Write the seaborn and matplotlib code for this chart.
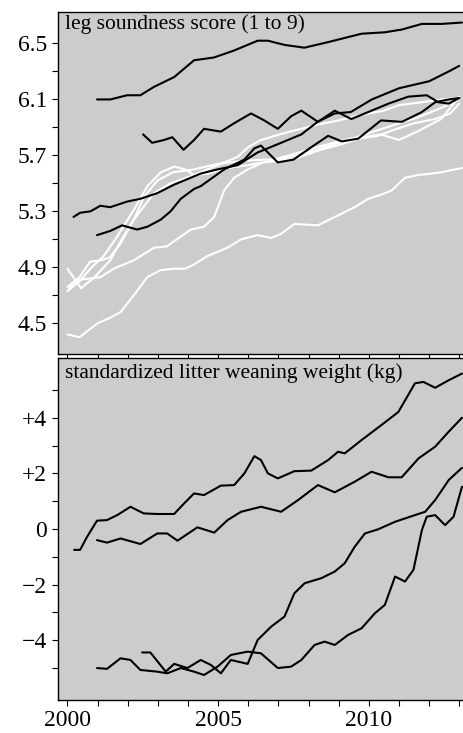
import numpy as np
import pandas as pd
import matplotlib
matplotlib.use("Agg")
import matplotlib.pyplot as plt
import seaborn as sns

# ---- top panel: leg soundness score, black lines ----
leg_black_1_yr = [2000.98, 2001.42, 2001.98, 2002.42, 2002.87, 2003.54, 2004.2, 2004.86, 2005.53,
                  2006.31, 2006.65, 2007.2, 2007.86, 2008.65, 2009.76, 2010.53, 2011.1, 2011.76, 2012.42, 2013.09]
leg_black_1 = [6.10, 6.10, 6.13, 6.13, 6.19, 6.26, 6.38, 6.40, 6.45,
               6.52, 6.52, 6.49, 6.47, 6.51, 6.57, 6.58, 6.60, 6.64, 6.64, 6.65]

leg_black_2_yr = [2002.51, 2002.81, 2003.2, 2003.48, 2003.85, 2004.2, 2004.53, 2005.09, 2005.53, 2006.09,
                  2006.53, 2006.98, 2007.42, 2007.76, 2008.31, 2008.87, 2009.42, 2009.98, 2010.65, 2011.31,
                  2011.92, 2012.31, 2012.65, 2013.0]
leg_black_2 = [5.85, 5.79, 5.81, 5.83, 5.74, 5.81, 5.89, 5.87, 5.93, 6.00,
               5.95, 5.89, 5.98, 6.02, 5.94, 6.02, 5.96, 6.01, 6.07, 6.12,
               6.13, 6.08, 6.07, 6.11]

leg_black_3_yr = [2000.2, 2000.42, 2000.76, 2001.09, 2001.42, 2001.98, 2002.42, 2002.98, 2003.53, 2004.42,
                  2004.98, 2005.65, 2006.3, 2007.2, 2007.76, 2008.3, 2008.87, 2009.4, 2010.1, 2011.0,
                  2012.0, 2012.65, 2013.0]
leg_black_3 = [5.26, 5.29, 5.30, 5.34, 5.33, 5.37, 5.39, 5.43, 5.49, 5.57,
               5.60, 5.63, 5.72, 5.80, 5.85, 5.94, 6.00, 6.01, 6.10, 6.18,
               6.23, 6.30, 6.34]

leg_black_4_yr = [2000.98, 2001.42, 2001.81, 2002.31, 2002.65, 2003.09, 2003.42, 2003.76, 2004.2, 2004.42,
                  2005.2, 2005.87, 2006.2, 2006.42, 2006.98, 2007.5, 2008.1, 2008.65, 2009.1, 2009.65,
                  2010.4, 2011.1, 2011.76, 2012.2, 2012.65, 2013.0]
leg_black_4 = [5.13, 5.16, 5.20, 5.17, 5.19, 5.24, 5.30, 5.39, 5.46, 5.48,
               5.60, 5.67, 5.75, 5.77, 5.65, 5.67, 5.76, 5.84, 5.80, 5.82,
               5.95, 5.94, 6.01, 6.08, 6.10, 6.11]

# ---- top panel: white lines ----
leg_white_1_yr = [2000.0, 2000.45, 2000.9, 2001.42, 2001.8, 2002.2, 2002.87, 2003.42, 2004.2, 2004.87,
                  2005.65, 2006.0, 2006.42, 2007.2, 2008.3, 2009.0, 2009.75, 2010.5, 2011.0, 2011.76,
                  2012.4, 2013.0]
leg_white_1 = [4.89, 4.75, 4.83, 4.95, 5.10, 5.24, 5.43, 5.50, 5.56, 5.62,
               5.69, 5.76, 5.81, 5.86, 5.92, 5.95, 5.99, 6.02, 6.06, 6.08,
               6.10, 6.11]

leg_white_2_yr = [2000.0, 2000.4, 2000.8, 2001.2, 2001.65, 2002.2, 2002.65, 2003.1, 2003.55, 2003.9,
                  2004.2, 2004.65, 2005.3, 2006.0, 2006.7, 2007.5, 2008.3, 2009.0, 2009.6, 2010.3,
                  2011.0, 2011.6, 2012.3, 2013.0]
leg_white_2 = [4.73, 4.80, 4.90, 4.98, 5.12, 5.31, 5.48, 5.58, 5.62, 5.60,
               5.56, 5.57, 5.61, 5.63, 5.66, 5.71, 5.76, 5.80, 5.83, 5.88,
               5.93, 5.97, 6.03, 6.10]

leg_white_3_yr = [2000.0, 2000.4, 2000.75, 2001.1, 2001.4, 2001.76, 2002.2, 2002.53, 2002.98, 2003.5,
                  2004.2, 2005.0, 2005.8, 2006.5, 2007.0, 2007.6, 2008.3, 2009.0, 2009.7, 2010.3,
                  2010.8, 2011.5, 2012.2, 2012.7, 2013.0]
leg_white_3 = [4.76, 4.83, 4.94, 4.95, 4.97, 5.07, 5.24, 5.40, 5.52, 5.58,
               5.60, 5.64, 5.66, 5.67, 5.67, 5.70, 5.74, 5.79, 5.82, 5.84,
               5.88, 5.93, 5.96, 6.00, 6.07]

leg_white_4_yr = [2000.0, 2000.3, 2000.76, 2001.1, 2001.53, 2002.2, 2002.87, 2003.3, 2003.76, 2004.1,
                  2004.53, 2004.87, 2005.2, 2005.53, 2005.98, 2006.5, 2007.0, 2007.6, 2008.4, 2009.1,
                  2009.8, 2010.4, 2011.0, 2011.6, 2012.4, 2013.0]
leg_white_4 = [4.73, 4.81, 4.82, 4.83, 4.89, 4.95, 5.04, 5.05, 5.12, 5.17,
               5.19, 5.26, 5.45, 5.54, 5.60, 5.65, 5.66, 5.68, 5.74, 5.78,
               5.83, 5.85, 5.81, 5.87, 5.96, 6.12]

leg_white_5_yr = [2000.0, 2000.4, 2001.0, 2001.42, 2001.76, 2002.2, 2002.65, 2003.09, 2003.53, 2003.9,
                  2004.2, 2004.64, 2005.31, 2005.76, 2006.31, 2006.76, 2007.09, 2007.53, 2008.31, 2008.87,
                  2009.53, 2009.98, 2010.42, 2010.76, 2011.2, 2011.64, 2012.09, 2012.42, 2013.09]
leg_white_5 = [4.42, 4.40, 4.50, 4.54, 4.58, 4.70, 4.83, 4.88, 4.89, 4.89,
               4.92, 4.98, 5.04, 5.10, 5.13, 5.11, 5.14, 5.21, 5.20, 5.26,
               5.33, 5.39, 5.42, 5.45, 5.54, 5.56, 5.57, 5.58, 5.61]

# ---- bottom panel: standardized litter weaning weight ----
wean_1_yr = [2000.22, 2000.42, 2000.65, 2000.98, 2001.31, 2001.65, 2002.09, 2002.53, 2002.98, 2003.54,
             2003.87, 2004.2, 2004.53, 2005.09, 2005.53, 2005.87, 2006.2, 2006.42, 2006.65, 2006.98,
             2007.53, 2008.09, 2008.65, 2008.98, 2009.2, 2009.76, 2010.42, 2010.98, 2011.53, 2011.81,
             2012.2, 2012.65, 2013.09]
wean_1 = [-0.75, -0.75, -0.28, 0.30, 0.32, 0.50, 0.80, 0.56, 0.54, 0.54,
          0.92, 1.28, 1.22, 1.56, 1.58, 2.00, 2.62, 2.48, 2.00, 1.82,
          2.08, 2.10, 2.48, 2.78, 2.72, 3.20, 3.74, 4.21, 5.24, 5.29,
          5.08, 5.35, 5.59]

wean_2_yr = [2000.98, 2001.31, 2001.76, 2002.42, 2002.98, 2003.31, 2003.65, 2004.31, 2004.87, 2005.31,
             2005.76, 2006.42, 2007.09, 2007.65, 2008.31, 2008.87, 2009.53, 2010.09, 2010.65, 2011.09,
             2011.65, 2012.2, 2012.65, 2013.09]
wean_2 = [-0.40, -0.49, -0.34, -0.54, -0.16, -0.16, -0.42, 0.06, -0.13, 0.32,
          0.62, 0.80, 0.62, 1.04, 1.58, 1.32, 1.70, 2.06, 1.86, 1.86,
          2.54, 2.96, 3.50, 4.00]

wean_3_yr = [2002.48, 2002.75, 2003.26, 2003.54, 2003.98, 2004.42, 2004.76, 2005.09, 2005.42, 2005.98,
             2006.31, 2006.76, 2007.2, 2007.53, 2007.87, 2008.42, 2008.87, 2009.2, 2009.53, 2009.87,
             2010.31, 2010.87, 2011.53, 2011.87, 2012.2, 2012.65, 2013.09]
wean_3 = [-4.44, -4.44, -5.13, -4.85, -5.00, -4.71, -4.89, -5.19, -4.71, -4.85,
          -3.99, -3.51, -3.15, -2.31, -1.95, -1.77, -1.53, -1.23, -0.64, -0.16,
          -0.01, 0.26, 0.50, 0.62, 1.04, 1.76, 2.20]

wean_4_yr = [2000.98, 2001.31, 2001.76, 2002.09, 2002.42, 2002.98, 2003.31, 2003.76, 2004.2, 2004.53,
             2004.98, 2005.42, 2005.98, 2006.42, 2006.98, 2007.42, 2007.76, 2008.2, 2008.53, 2008.87,
             2009.31, 2009.76, 2010.2, 2010.53, 2010.87, 2011.2, 2011.48, 2011.76, 2011.92, 2012.2,
             2012.53, 2012.81, 2013.09]
wean_4 = [-5.00, -5.03, -4.65, -4.71, -5.07, -5.13, -5.19, -5.00, -5.13, -5.25,
          -4.95, -4.53, -4.41, -4.47, -5.00, -4.95, -4.71, -4.17, -4.05, -4.17,
          -3.81, -3.57, -3.03, -2.73, -1.71, -1.89, -1.47, -0.04, 0.44, 0.50,
          0.14, 0.44, 1.52]

top_series = [
    (leg_white_1_yr, leg_white_1, "white"),
    (leg_white_2_yr, leg_white_2, "white"),
    (leg_white_3_yr, leg_white_3, "white"),
    (leg_white_4_yr, leg_white_4, "white"),
    (leg_white_5_yr, leg_white_5, "white"),
    (leg_black_1_yr, leg_black_1, "black"),
    (leg_black_2_yr, leg_black_2, "black"),
    (leg_black_3_yr, leg_black_3, "black"),
    (leg_black_4_yr, leg_black_4, "black"),
]
bottom_series = [
    (wean_1_yr, wean_1, "black"),
    (wean_2_yr, wean_2, "black"),
    (wean_3_yr, wean_3, "black"),
    (wean_4_yr, wean_4, "black"),
]

top_ticks = [4.5, 4.9, 5.3, 5.7, 6.1, 6.5]
bottom_ticks = [-4, -2, 0, 2, 4]
bottom_tick_labels = ["\u22124", "\u22122", "0", "+2", "+4"]
year_ticks = [2000, 2005, 2010]

sns.set_theme(style="ticks")
plt.rcParams["font.family"] = ["Liberation Serif", "DejaVu Serif"]
plt.rcParams["axes.facecolor"] = "#cccccc"
plt.rcParams["axes.edgecolor"] = "black"
plt.rcParams["axes.linewidth"] = 1.0
plt.rcParams["lines.solid_joinstyle"] = "round"
plt.rcParams["lines.solid_capstyle"] = "round"

fig = plt.figure(figsize=(4.64, 7.33), dpi=100)
ax1 = fig.add_axes([0.124, 0.517, 0.882, 0.4666])
ax2 = fig.add_axes([0.124, 0.0450, 0.882, 0.4666])

for yr, val, col in top_series:
    sns.lineplot(x=yr, y=val, ax=ax1, color=col, lw=1.5, sort=False, estimator=None)
for yr, val, col in bottom_series:
    sns.lineplot(x=yr, y=val, ax=ax2, color=col, lw=1.5, sort=False, estimator=None)

for ax in (ax1, ax2):
    ax.set_xlim(1999.67, 2013.25)
    ax.set_xticks(range(2000, 2014))
    ax.tick_params(axis="both", which="both", direction="out", length=4.5, width=0.8,
                   color="black", labelcolor="black", labelsize=17, pad=3)
    ax.set_xlabel("")
    ax.set_ylabel("")
    for s in ax.spines.values():
        s.set_color("black")

ax1.set_ylim(4.28, 6.725)
ax1.set_yticks(top_ticks)
ax1.set_yticklabels([f"{t:.1f}" for t in top_ticks])
ax1.set_yticks([4.7, 5.1, 5.5, 5.9, 6.3], minor=True)
ax1.set_xticklabels([])
ax1.text(0.018, 0.992, "leg soundness score (1 to 9)", transform=ax1.transAxes,
         ha="left", va="top", fontsize=15.5, color="black")

ax2.set_ylim(-6.15, 6.15)
ax2.set_yticks(bottom_ticks)
ax2.set_yticklabels(bottom_tick_labels)
ax2.set_yticks([-5, -3, -1, 1, 3, 5], minor=True)
ax2.set_xticklabels([str(y) if y in year_ticks else "" for y in range(2000, 2014)])
ax2.text(0.018, 0.985, "standardized litter weaning weight (kg)", transform=ax2.transAxes,
         ha="left", va="top", fontsize=15.5, color="black")

fig.savefig("out.png", dpi=100)
